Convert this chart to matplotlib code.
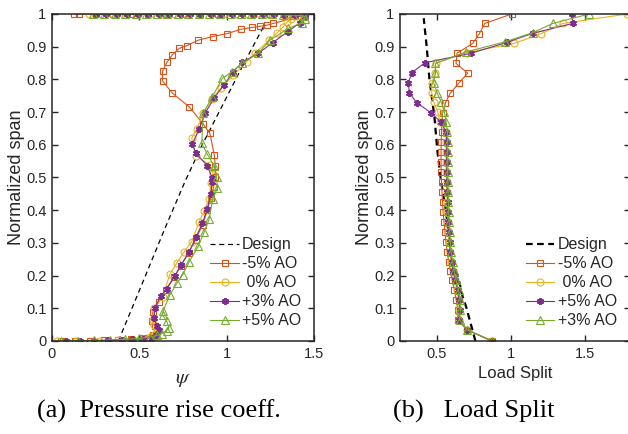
import matplotlib.pyplot as plt
import numpy as np

plt.rcParams['font.family'] = ['Liberation Sans', 'DejaVu Sans']
plt.rcParams['mathtext.fontset'] = 'stix'

# ---------------- (a) pressure rise coefficient vs span ----------------
design_psi = [0.38, 0.52, 0.647, 0.765, 0.86, 0.962, 1.09, 1.219]
design_span_a = [0.0, 0.18, 0.345, 0.492, 0.60, 0.706, 0.84, 0.969]

m5_psi = [0.05, 0.13, 0.22, 0.30, 0.38, 0.45, 0.52, 0.58, 0.600, 0.590, 0.575, 0.577,
          0.612, 0.650, 0.700, 0.738, 0.782, 0.822, 0.862, 0.890, 0.908, 0.925, 0.933,
          0.935, 0.929, 0.904, 0.866, 0.786, 0.689, 0.633, 0.633, 0.660, 0.689, 0.729,
          0.771, 0.838, 0.920, 1.003, 1.080, 1.147, 1.190, 1.232, 1.267, 1.425, 1.45,
          1.35, 1.25, 1.15, 1.05, 0.95, 0.85, 0.75, 0.65, 0.55, 0.45, 0.35, 0.25, 0.155, 0.126]
m5_span = [0.0, 0.0, 0.001, 0.002, 0.004, 0.006, 0.010, 0.018, 0.030, 0.045, 0.062, 0.090,
           0.120, 0.155, 0.197, 0.230, 0.270, 0.310, 0.355, 0.400, 0.437, 0.470, 0.502,
           0.535, 0.569, 0.635, 0.663, 0.716, 0.758, 0.795, 0.826, 0.854, 0.875, 0.895,
           0.903, 0.920, 0.931, 0.940, 0.953, 0.959, 0.962, 0.966, 0.971, 0.994, 1.0,
           1.0, 1.0, 1.0, 1.0, 1.0, 1.0, 1.0, 1.0, 1.0, 1.0, 1.0, 1.0, 1.0, 1.0]

z0_psi = [0.03, 0.14, 0.27, 0.38, 0.46, 0.52, 0.56, 0.59, 0.600, 0.585, 0.576, 0.584,
          0.633, 0.675, 0.714, 0.757, 0.800, 0.843, 0.870, 0.899, 0.910, 0.923, 0.904,
          0.824, 0.800, 0.828, 0.866, 0.914, 0.967, 1.038, 1.114, 1.162, 1.244, 1.286,
          1.324, 1.347, 1.37, 1.40, 1.33, 1.26, 1.19, 1.12, 1.05, 0.98, 0.91, 0.84, 0.77,
          0.70, 0.63, 0.56, 0.49, 0.42, 0.35, 0.28, 0.21]
z0_span = [0.0, 0.0, 0.001, 0.002, 0.004, 0.007, 0.012, 0.020, 0.035, 0.050, 0.064, 0.100,
           0.136, 0.204, 0.238, 0.273, 0.304, 0.365, 0.398, 0.433, 0.482, 0.511, 0.538,
           0.567, 0.620, 0.647, 0.698, 0.740, 0.773, 0.813, 0.854, 0.880, 0.920, 0.941,
           0.961, 0.976, 0.985, 0.995, 0.998, 0.999, 0.999, 1.0, 1.0, 1.0, 1.0, 1.0, 1.0,
           1.0, 1.0, 1.0, 1.0, 1.0, 1.0, 1.0, 1.0]

p3_psi = [0.08, 0.16, 0.24, 0.32, 0.40, 0.46, 0.52, 0.57, 0.595, 0.614, 0.599, 0.584,
          0.590, 0.622, 0.656, 0.704, 0.738, 0.786, 0.824, 0.861, 0.889, 0.908, 0.918,
          0.918, 0.889, 0.824, 0.803, 0.843, 0.876, 0.927, 0.985, 1.038, 1.089, 1.181,
          1.263, 1.349, 1.420, 1.45, 1.39, 1.33, 1.27, 1.21, 1.15, 1.09, 1.03, 0.97, 0.91,
          0.85, 0.79, 0.73, 0.67, 0.61, 0.55, 0.49, 0.43, 0.37, 0.31, 0.25]
p3_span = [0.0, 0.0, 0.001, 0.002, 0.003, 0.005, 0.007, 0.010, 0.018, 0.034, 0.047, 0.071,
           0.102, 0.138, 0.158, 0.199, 0.232, 0.273, 0.317, 0.360, 0.403, 0.450, 0.487,
           0.497, 0.536, 0.574, 0.602, 0.648, 0.696, 0.742, 0.783, 0.824, 0.852, 0.880,
           0.912, 0.946, 0.973, 0.990, 0.997, 0.998, 0.999, 0.999, 1.0, 1.0, 1.0, 1.0, 1.0,
           1.0, 1.0, 1.0, 1.0, 1.0, 1.0, 1.0, 1.0, 1.0, 1.0, 1.0]

p5_psi = [0.05, 0.15, 0.24, 0.33, 0.42, 0.50, 0.56, 0.60, 0.627, 0.656, 0.670, 0.656,
          0.633, 0.637, 0.675, 0.714, 0.748, 0.786, 0.837, 0.872, 0.899, 0.920, 0.946,
          0.943, 0.929, 0.889, 0.857, 0.866, 0.918, 0.975, 1.032, 1.089, 1.181, 1.248,
          1.353, 1.429, 1.45, 1.44, 1.38, 1.32, 1.26, 1.20, 1.14, 1.08, 1.02, 0.96, 0.90,
          0.84, 0.78, 0.72, 0.66, 0.60, 0.54, 0.48, 0.42, 0.36, 0.30, 0.235]
p5_span = [0.0, 0.001, 0.002, 0.003, 0.005, 0.008, 0.012, 0.017, 0.022, 0.032, 0.041, 0.061,
           0.080, 0.093, 0.141, 0.176, 0.202, 0.243, 0.289, 0.334, 0.372, 0.433, 0.467,
           0.500, 0.535, 0.571, 0.604, 0.696, 0.747, 0.803, 0.824, 0.849, 0.880, 0.920,
           0.956, 0.973, 0.985, 0.993, 0.997, 0.998, 0.999, 0.999, 1.0, 1.0, 1.0, 1.0, 1.0,
           1.0, 1.0, 1.0, 1.0, 1.0, 1.0, 1.0, 1.0, 1.0, 1.0, 1.0]

# ---------------- (b) load split vs span ----------------
design_ls = [0.759, 0.696, 0.673, 0.639, 0.605, 0.585, 0.56, 0.527, 0.504, 0.482, 0.448, 0.43, 0.41]
design_span_b = [0.0, 0.105, 0.135, 0.202, 0.238, 0.30, 0.40, 0.488, 0.574, 0.686, 0.803, 0.90, 0.987]

span_b = [0.0, 0.034, 0.064, 0.095, 0.125, 0.156, 0.187, 0.215, 0.243, 0.273, 0.303,
          0.334, 0.364, 0.395, 0.425, 0.456, 0.487, 0.517, 0.548, 0.578, 0.609, 0.640]

m5_ls_low = [0.871, 0.703, 0.639, 0.640, 0.630, 0.617, 0.603, 0.590, 0.578, 0.568, 0.560,
             0.553, 0.547, 0.541, 0.537, 0.533, 0.530, 0.528, 0.527, 0.527, 0.528, 0.530]
m5_ls_up = [0.533, 0.538, 0.556, 0.588, 0.646, 0.707, 0.628, 0.635, 0.741, 0.786, 0.822, 1.004]
m5_span_up = [0.669, 0.698, 0.728, 0.757, 0.788, 0.819, 0.849, 0.880, 0.910, 0.940, 0.971, 1.0]

z0_ls_low = [0.871, 0.700, 0.645, 0.650, 0.645, 0.635, 0.620, 0.606, 0.596, 0.586, 0.581,
             0.577, 0.573, 0.570, 0.568, 0.566, 0.564, 0.563, 0.562, 0.562, 0.561, 0.560]
z0_ls_up = [0.520, 0.504, 0.477, 0.464, 0.464, 0.489, 0.490, 0.700, 1.022, 1.203, 1.349, 1.784]
z0_span_up = [0.671, 0.701, 0.732, 0.759, 0.788, 0.819, 0.849, 0.882, 0.910, 0.940, 0.971, 1.0]

p5_ls_low = [0.871, 0.704, 0.647, 0.653, 0.650, 0.640, 0.624, 0.610, 0.600, 0.590, 0.585,
             0.581, 0.577, 0.574, 0.572, 0.570, 0.568, 0.567, 0.566, 0.566, 0.566, 0.560]
p5_ls_up = [0.527, 0.459, 0.362, 0.313, 0.306, 0.331, 0.419, 0.730, 0.970, 1.146, 1.416, 1.41]
p5_span_up = [0.669, 0.698, 0.729, 0.759, 0.790, 0.821, 0.851, 0.880, 0.913, 0.941, 0.971, 1.0]

p3_ls_low = [0.871, 0.705, 0.652, 0.658, 0.655, 0.645, 0.628, 0.615, 0.605, 0.595, 0.590,
             0.586, 0.582, 0.579, 0.577, 0.575, 0.573, 0.572, 0.572, 0.572, 0.572, 0.570]
p3_ls_up = [0.561, 0.549, 0.527, 0.500, 0.477, 0.489, 0.489, 0.696, 0.961, 1.146, 1.281, 1.529]
p3_span_up = [0.671, 0.701, 0.732, 0.759, 0.790, 0.819, 0.849, 0.884, 0.915, 0.943, 0.971, 1.0]

red = '#D95319'
yellow = '#EDB120'
purple = '#7E2F8E'
green = '#77AC30'
txt = '#262626'

star = (6, 2, 0)
sty = {'lw': 0.8}
mk_sq = dict(marker='s', ms=4.2, mfc='none', mew=0.8)
mk_ci = dict(marker='o', ms=5, mfc='none', mew=0.8)
mk_st = dict(marker=star, ms=5, mew=1.4)
mk_tr = dict(marker='^', ms=5.2, mfc='none', mew=0.8)

fig = plt.figure(figsize=(6.28, 4.34), dpi=100)
ax1 = fig.add_axes([0.0828, 0.2143, 0.4172, 0.7535])
ax2 = fig.add_axes([0.637, 0.2143, 0.3655, 0.7535])

ax1.plot(design_psi, design_span_a, '--', color='k', lw=0.9, dashes=(4, 3), label='Design')
ax1.plot(m5_psi, m5_span, color=red, label='-5% AO', **sty, **mk_sq)
ax1.plot(z0_psi, z0_span, color=yellow, label=' 0% AO', **sty, **mk_ci)
ax1.plot(p3_psi, p3_span, color=purple, label='+3% AO', **sty, **mk_st)
ax1.plot(p5_psi, p5_span, color=green, label='+5% AO', **sty, **mk_tr)

ax2.plot(design_ls, design_span_b, '--', color='k', lw=1.6, dashes=(3, 2), label='Design')
ax2.plot(m5_ls_low + m5_ls_up, span_b + m5_span_up, color=red, label='-5% AO', **sty, **mk_sq)
ax2.plot(z0_ls_low + z0_ls_up, span_b + z0_span_up, color=yellow, label=' 0% AO', **sty, **mk_ci)
ax2.plot(p5_ls_low + p5_ls_up, span_b + p5_span_up, color=purple, label='+5% AO', **sty, **mk_st)
ax2.plot(p3_ls_low + p3_ls_up, span_b + p3_span_up, color=green, label='+3% AO', **sty, **mk_tr)

ax1.set_xlim(0, 1.5)
ax1.set_xticks([0, 0.5, 1, 1.5])
ax1.set_xticklabels(['0', '0.5', '1', '1.5'])
ax2.set_xlim(0.25, 1.8)
ax2.set_xticks([0.5, 1, 1.5])
ax2.set_xticklabels(['0.5', '1', '1.5'])

for ax in (ax1, ax2):
    ax.set_ylim(0, 1)
    ax.set_yticks(np.arange(0, 1.01, 0.1))
    ax.set_yticklabels(['0'] + ['%.1f' % v for v in np.arange(0.1, 0.95, 0.1)] + ['1'])
    ax.tick_params(direction='in', length=4, width=1.0, top=True, right=True,
                   labelsize=10.5, labelcolor=txt, color='#262626', pad=4)
    for s in ax.spines.values():
        s.set_linewidth(1.1)
        s.set_color('#262626')
    ax.set_ylabel('Normalized span', fontsize=13, color=txt, labelpad=1)
    leg = ax.legend(loc='lower right', frameon=False, fontsize=11.5, handlelength=1.8,
                    handletextpad=0.2, labelspacing=0.25, borderaxespad=0.4)
    for t in leg.get_texts():
        t.set_color(txt)

ax1.set_xlabel(r'$\psi$', fontsize=15, color=txt, labelpad=7)
ax2.set_xlabel('Load Split', fontsize=12, color=txt, labelpad=4)

fig.text(0.253, 0.052, '(a)  Pressure rise coeff.', family='Liberation Serif', fontsize=19,
         ha='center', va='center', color='k')
fig.text(0.755, 0.052, '(b)   Load Split', family='Liberation Serif', fontsize=19,
         ha='center', va='center', color='k')

fig.savefig('out.png', dpi=100)
